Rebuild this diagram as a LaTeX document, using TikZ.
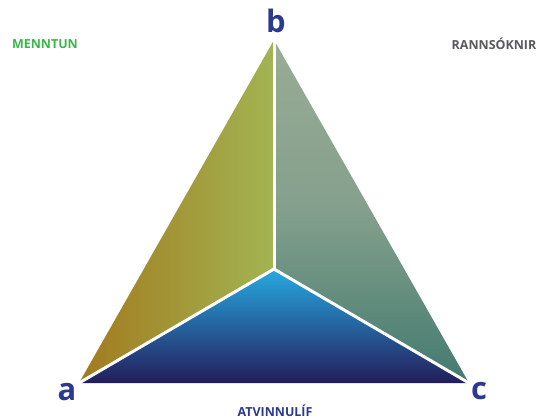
\documentclass[tikz,border=0pt]{standalone}
\usepackage{fontspec}
\setmainfont{Open Sans}
\definecolor{goldface}{HTML}{A27A1E}
\definecolor{oliveface}{HTML}{A2B452}
\definecolor{sagetop}{HTML}{99AC96}
\definecolor{tealbottom}{HTML}{437A6F}
\definecolor{skytop}{HTML}{27A9E1}
\definecolor{navybottom}{HTML}{231D5B}
\definecolor{labelblue}{HTML}{2B3990}
\definecolor{menntgreen}{HTML}{39B54A}
\definecolor{rannsgray}{HTML}{58595B}
\tikzset{
  corner/.style={font=\bfseries\fontsize{31}{31}\selectfont, text=labelblue, inner sep=0pt},
  field/.style={font=\bfseries\fontsize{12.5}{13}\selectfont, inner sep=0pt},
  divider/.style={draw=white, line width=3bp}
}
\begin{document}
\begin{tikzpicture}[x=1bp,y=1bp]
  \useasboundingbox (0,0) rectangle (539,419);
  \coordinate (a) at (79,36);
  \coordinate (b) at (274,379);
  \coordinate (c) at (469,36);
  \coordinate (m) at (274,150);
  % faces
  \shade[left color=goldface, right color=oliveface] (a) -- (b) -- (m) -- cycle;
  \shade[top color=sagetop, bottom color=tealbottom, middle color=sagetop!75!tealbottom] (b) -- (c) -- (m) -- cycle;
  \shade[top color=skytop, bottom color=navybottom] (m) -- (c) -- (a) -- cycle;
  \begin{scope}[divider]
    \draw (m) to (b);
    \draw (m) to (a);
    \draw (m) to (c);
  \end{scope}
  % labels
  \draw
    (67,27) node[corner] (la){a}
    (276,398) node[corner] (lb){b}
    (479,28) node[corner] (lc){c}
    (45,375) node[field, text=menntgreen] (menntun){MENNTUN}
    (494,375) node[field, text=rannsgray] (rannsoknir){RANNSÓKNIR}
    (275,3) node[field, text=labelblue, anchor=base] (atvinnulif){ATVINNULÍF};
\end{tikzpicture}
\end{document}
